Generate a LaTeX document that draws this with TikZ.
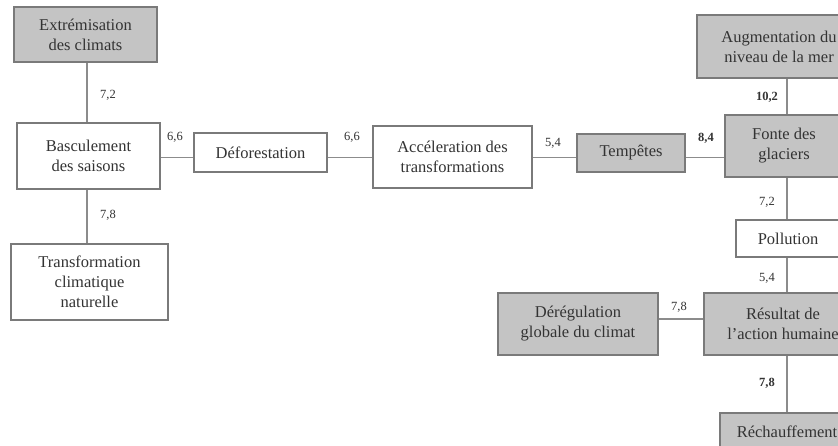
\documentclass[tikz,border=0pt]{standalone}
\usepackage{fontspec}
\setmainfont{Liberation Serif}
\definecolor{boxgray}{HTML}{C4C4C4}
\definecolor{edgegray}{HTML}{7A7A7A}
\definecolor{linegray}{HTML}{8C8C8C}
\definecolor{txt}{HTML}{333333}
\tikzset{
  box/.style={draw=edgegray, line width=1.3pt, fill=white, align=center, inner sep=0pt,
    text=txt, font=\fontsize{16.5}{20}\selectfont},
  graybox/.style={box, fill=boxgray},
  conn/.style={draw=linegray, line width=1.4pt},
  lbl/.style={text=txt, font=\fontsize{12.5}{14}\selectfont, inner sep=0pt},
  blbl/.style={lbl, font=\fontsize{12.5}{14}\selectfont\bfseries}
}
\begin{document}
\begin{tikzpicture}[x=1pt, y=-1pt]
\clip (0,0) rectangle (838,445);
\useasboundingbox (0,0) rectangle (838,445);
\fill[white] (0,0) rectangle (838,445);

\coordinate (colL) at (87,0);
\coordinate (colR) at (787,0);
\coordinate (rowA) at (0,157.5);
\coordinate (rowB) at (0,319);

% boxes
\node[graybox, minimum width=143pt, minimum height=55pt] (ext) at (85.5,34.5) {Extrémisation\\des climats};
\node[box, minimum width=143pt, minimum height=66pt] (basc) at (88.5,156) {Basculement\\des saisons};
\node[box, minimum width=157pt, minimum height=76pt] (trans) at (89.5,282) {Transformation\\climatique\\naturelle};
\node[box, minimum width=133pt, minimum height=39pt] (defo) at (260.5,152.5) {Déforestation};
\node[box, minimum width=159pt, minimum height=62pt] (acc) at (452.5,157) {Accéleration des\\transformations};
\node[graybox, minimum width=108pt, minimum height=38pt] (temp) at (631,153) {Tempêtes};
\node[graybox, minimum width=118pt, minimum height=62pt] (fonte) at (784,146) {Fonte des\\glaciers};
\node[graybox, minimum width=164pt, minimum height=63pt] (aug) at (779,46.5) {Augmentation du\\niveau de la mer};
\node[box, minimum width=104pt, minimum height=37pt] (poll) at (788,238.5) {Pollution};
\node[graybox, minimum width=158pt, minimum height=62pt] (res) at (783,324) {Résultat de\\l'action humaine};
\node[graybox, minimum width=160pt, minimum height=62pt] (dere) at (578,324) {Dérégulation\\globale du climat};
\node[graybox, minimum width=134pt, minimum height=38pt] (rech) at (787,432) {Réchauffement};

% connectors
\draw[conn] (ext.south -| colL) -- (basc.north -| colL);
\draw[conn] (basc.south -| colL) -- (trans.north -| colL);
\draw[conn] (basc.east |- rowA) -- (defo.west |- rowA);
\draw[conn] (defo.east |- rowA) -- (acc.west |- rowA);
\draw[conn] (acc.east |- rowA) -- (temp.west |- rowA);
\draw[conn] (temp.east |- rowA) -- (fonte.west |- rowA);
\draw[conn] (aug.south -| colR) -- (fonte.north -| colR);
\draw[conn] (fonte.south -| colR) -- (poll.north -| colR);
\draw[conn] (poll.south -| colR) -- (res.north -| colR);
\draw[conn] (dere.east |- rowB) -- (res.west |- rowB);
\draw[conn] (res.south -| colR) -- (rech.north -| colR);

% labels
\node[lbl] (l1) at (108,95) {7,2};
\node[lbl] (l2) at (108,215) {7,8};
\node[lbl] (l3) at (175,137) {6,6};
\node[lbl] (l4) at (352,137) {6,6};
\node[lbl] (l5) at (553,143) {5,4};
\node[blbl] (l6) at (706,138) {8,4};
\node[blbl] (l7) at (767,97) {10,2};
\node[lbl] (l8) at (767,202) {7,2};
\node[lbl] (l9) at (767,278) {5,4};
\node[lbl] (l10) at (679,307) {7,8};
\node[blbl] (l11) at (767,383) {7,8};
\end{tikzpicture}
\end{document}
